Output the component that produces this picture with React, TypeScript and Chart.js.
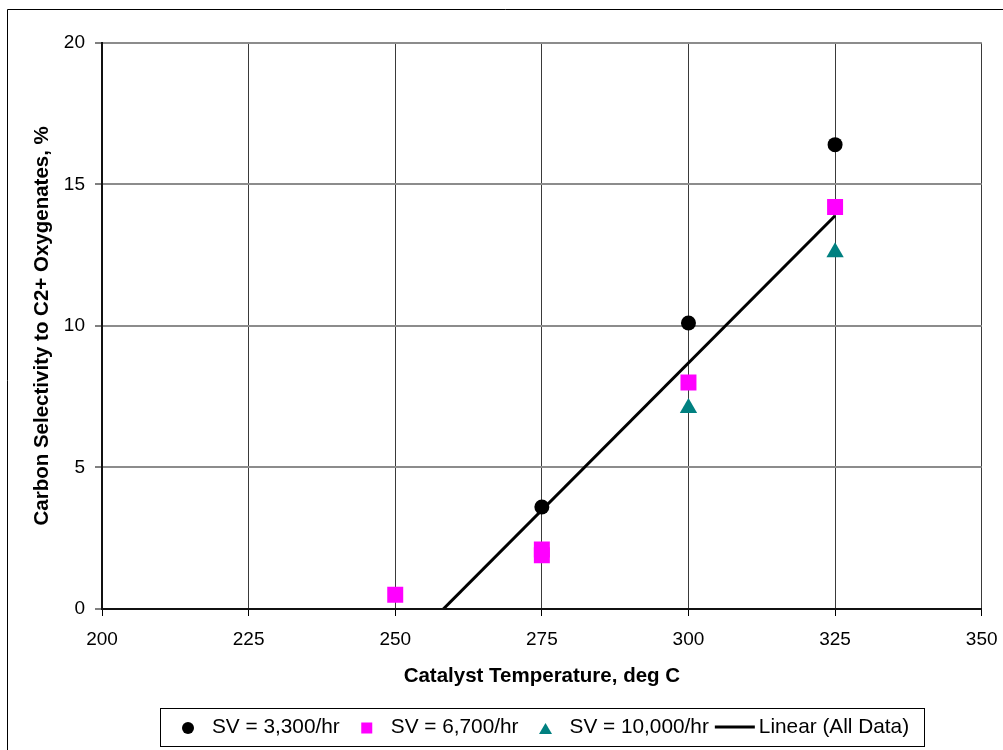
import React, { useEffect, useRef } from 'react';
import { Chart, registerables } from 'chart.js';

Chart.register(...registerables);

// ---- data ----
const xTickValues = [200, 225, 250, 275, 300, 325, 350];
const yTickValues = [0, 5, 10, 15, 20];

const seriesNames = ['SV = 3,300/hr', 'SV = 6,700/hr', 'SV = 10,000/hr'];
const trendName = 'Linear (All Data)';
const xTitle = 'Catalyst Temperature, deg C';
const yTitle = 'Carbon Selectivity to C2+ Oxygenates, %';

const sv3300Temp = [275, 300, 325];
const sv3300Sel = [3.6, 10.1, 16.4];

const sv6700Temp = [250, 275, 275, 300, 325];
const sv6700Sel = [0.5, 2.1, 1.9, 8.0, 14.2];

const sv10000Temp = [300, 325];
const sv10000Sel = [7.1, 12.6];

const FONT = '"Liberation Sans", Arial, Helvetica, sans-serif';

const toPoints = (xs: number[], ys: number[]) => xs.map((x, i) => ({ x, y: ys[i] }));

// least-squares trend over all data
function trendPoints() {
  const xs = [...sv3300Temp, ...sv6700Temp, ...sv10000Temp];
  const ys = [...sv3300Sel, ...sv6700Sel, ...sv10000Sel];
  const n = xs.length;
  const mx = xs.reduce((a, b) => a + b, 0) / n;
  const my = ys.reduce((a, b) => a + b, 0) / n;
  let sxy = 0;
  let sxx = 0;
  for (let i = 0; i < n; i++) {
    sxy += (xs[i] - mx) * (ys[i] - my);
    sxx += (xs[i] - mx) * (xs[i] - mx);
  }
  const slope = sxy / sxx;
  const icpt = my - slope * mx;
  const ends = [Math.min(...xs), Math.max(...xs)];
  return ends.map((x) => ({ x, y: icpt + slope * x }));
}

const frameLines = {
  id: 'frameLines',
  beforeDraw(chart: any) {
    const { ctx } = chart;
    ctx.save();
    ctx.strokeStyle = '#000';
    ctx.lineWidth = 1;
    ctx.beginPath();
    ctx.moveTo(7.5, chart.height + 10);
    ctx.lineTo(7.5, 9.5);
    ctx.lineTo(chart.width + 10, 9.5);
    ctx.stroke();
    ctx.restore();
  },
};

const boxLegend = {
  id: 'boxLegend',
  afterDraw(chart: any) {
    const { ctx, chartArea } = chart;
    ctx.save();
    ctx.font = `20.8px ${FONT}`;
    ctx.textBaseline = 'middle';
    ctx.textAlign = 'left';
    const items = chart.data.datasets.map((ds: any) => ({
      label: ds.label,
      style: ds.showLine ? 'line' : ds.pointStyle,
      color: ds.showLine ? ds.borderColor : ds.backgroundColor,
    }));
    const layout: any[] = [];
    let prevEnd = 0;
    items.forEach((it: any, i: number) => {
      const tw = ctx.measureText(it.label).width;
      if (it.style === 'line') {
        const ls = prevEnd + 6;
        const le = ls + 40;
        const ts = le + 4;
        layout.push({ ...it, ls, le, ts });
        prevEnd = ts + tw;
      } else {
        const mc = i === 0 ? 28 : prevEnd + 27;
        const ts = mc + 24;
        layout.push({ ...it, mc, ts });
        prevEnd = ts + tw;
      }
    });
    const boxW = Math.round(prevEnd + 15);
    const boxH = 38;
    const cx = (chartArea.left + chartArea.right) / 2;
    const left = Math.round(cx - boxW / 2);
    const top = chart.height - 42;
    const cy = top + boxH / 2;

    ctx.fillStyle = '#fff';
    ctx.fillRect(left, top, boxW, boxH);
    ctx.strokeStyle = '#000';
    ctx.lineWidth = 1;
    ctx.strokeRect(left + 0.5, top + 0.5, boxW, boxH);

    layout.forEach((it) => {
      ctx.fillStyle = it.color;
      ctx.strokeStyle = it.color;
      if (it.style === 'line') {
        ctx.lineWidth = 3;
        ctx.beginPath();
        ctx.moveTo(left + it.ls, cy);
        ctx.lineTo(left + it.le, cy);
        ctx.stroke();
      } else if (it.style === 'circle') {
        ctx.beginPath();
        ctx.arc(left + it.mc, cy + 1, 6, 0, Math.PI * 2);
        ctx.fill();
      } else if (it.style === 'rect') {
        ctx.fillRect(left + it.mc - 5.5, cy - 4.5, 11, 11);
      } else if (it.style === 'triangle') {
        const x = left + it.mc;
        ctx.beginPath();
        ctx.moveTo(x, cy - 4);
        ctx.lineTo(x + 6.5, cy + 7);
        ctx.lineTo(x - 6.5, cy + 7);
        ctx.closePath();
        ctx.fill();
      }
      ctx.fillStyle = '#000';
      ctx.fillText(it.label, left + it.ts, cy + 0.5);
    });
    ctx.restore();
  },
};

export default function App() {
  const canvasRef = useRef<HTMLCanvasElement | null>(null);

  useEffect(() => {
    const canvas = canvasRef.current;
    if (!canvas) return;
    const chart = new Chart(canvas, {
      type: 'scatter',
      data: {
        datasets: [
          {
            label: seriesNames[0],
            data: toPoints(sv3300Temp, sv3300Sel),
            pointStyle: 'circle',
            pointRadius: 7.5,
            pointHoverRadius: 7.5,
            backgroundColor: '#000000',
            borderColor: '#000000',
            borderWidth: 0,
            order: 3,
          },
          {
            label: seriesNames[1],
            data: toPoints(sv6700Temp, sv6700Sel),
            pointStyle: 'rect',
            pointRadius: 11.3,
            pointHoverRadius: 11.3,
            backgroundColor: '#FF00FF',
            borderColor: '#FF00FF',
            borderWidth: 0,
            order: 2,
          },
          {
            label: seriesNames[2],
            data: toPoints(sv10000Temp, sv10000Sel),
            pointStyle: 'triangle',
            pointRadius: 10,
            pointHoverRadius: 10,
            backgroundColor: '#008080',
            borderColor: '#008080',
            borderWidth: 0,
            order: 1,
          },
          {
            label: trendName,
            data: trendPoints(),
            showLine: true,
            pointRadius: 0,
            pointHoverRadius: 0,
            borderColor: '#000000',
            backgroundColor: '#000000',
            borderWidth: 3,
            fill: false,
            order: 0,
          } as any,
        ],
      },
      options: {
        responsive: false,
        animation: false,
        events: [],
        layout: { padding: { left: 0, top: 42.7, right: 21.3, bottom: 61.7 } },
        plugins: {
          legend: { display: false },
          tooltip: { enabled: false },
        },
        scales: {
          x: {
            type: 'linear',
            min: 200,
            max: 350,
            afterBuildTicks: (s: any) => {
              s.ticks = xTickValues.map((v) => ({ value: v }));
            },
            afterFit: (s: any) => {
              s.height = 79.3;
              s.paddingLeft = 0;
              s.paddingRight = 0;
            },
            grid: { color: '#3a3a3a', lineWidth: 1, tickLength: 7, tickColor: '#000', tickWidth: 1 },
            border: { color: '#111', width: 2, z: 1 },
            ticks: {
              color: '#000',
              font: { family: FONT, size: 19 },
              padding: 12,
              maxRotation: 0,
              autoSkip: false,
            },
            title: {
              display: true,
              text: xTitle,
              color: '#000',
              font: { family: FONT, size: 20.5, weight: 'bold' },
              padding: { top: 0, bottom: 0 },
            },
          },
          y: {
            type: 'linear',
            min: 0,
            max: 20,
            afterBuildTicks: (s: any) => {
              s.ticks = yTickValues.map((v) => ({ value: v }));
            },
            afterFit: (s: any) => {
              s.width = 102;
              s.paddingTop = 0;
              s.paddingBottom = 0;
            },
            grid: { color: '#8c8c8c', lineWidth: 2, tickLength: 7, tickColor: '#000', tickWidth: 1 },
            border: { color: '#111', width: 2, z: 1 },
            ticks: {
              color: '#000',
              font: { family: FONT, size: 19 },
              padding: 10,
              autoSkip: false,
            },
            title: {
              display: true,
              text: yTitle,
              color: '#000',
              font: { family: FONT, size: 20.5, weight: 'bold' },
              padding: { top: 29.7, bottom: 0 },
            },
          },
        },
      },
      plugins: [frameLines, boxLegend],
    } as any);
    return () => chart.destroy();
  }, []);

  return (
    <div style={{ position: 'absolute', left: 0, top: 0, width: 1003, height: 750, overflow: 'hidden', background: '#fff' }}>
      <canvas ref={canvasRef} width={1003} height={750} style={{ display: 'block' }} />
    </div>
  );
}
